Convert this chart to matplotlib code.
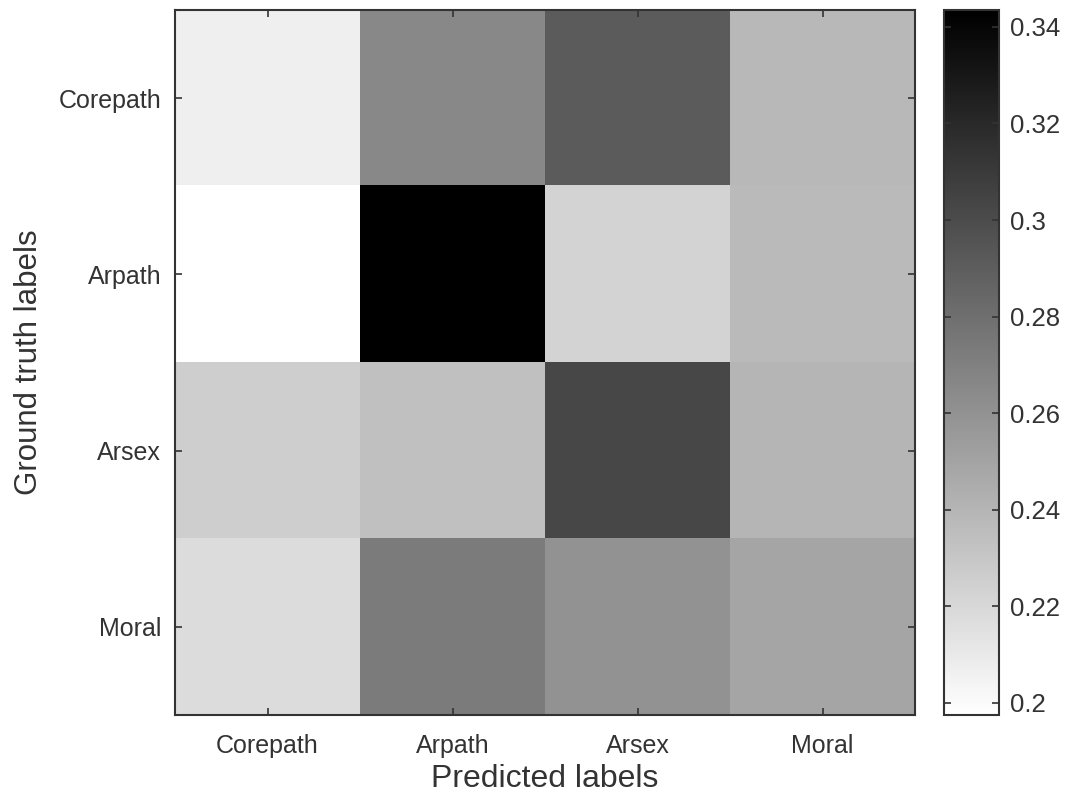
import numpy as np
import matplotlib
matplotlib.use("Agg")
import matplotlib.pyplot as plt
from matplotlib.ticker import FuncFormatter

labels = ["Corepath", "Arpath", "Arsex", "Moral"]
row_corepath = [0.2067, 0.2656, 0.2914, 0.2382]
row_arpath = [0.1975, 0.3435, 0.2227, 0.2370]
row_arsex = [0.2256, 0.2336, 0.3029, 0.2399]
row_moral = [0.2175, 0.2731, 0.2599, 0.2490]
cbar_ticks = [0.20, 0.22, 0.24, 0.26, 0.28, 0.30, 0.32, 0.34]

data = np.array([row_corepath, row_arpath, row_arsex, row_moral])

plt.rcParams['font.family'] = ['Liberation Sans', 'DejaVu Sans']
txt = '#333333'
edge = '#333333'

fig = plt.figure(figsize=(10.65, 8.01), dpi=100)
ax = fig.add_axes([175/1065, 1-715/801, 740/1065, 705/801])
cax = fig.add_axes([944/1065, 1-715/801, 55/1065, 705/801])

im = ax.imshow(data, cmap='gray_r', vmin=data.min(), vmax=data.max(),
               aspect='auto', interpolation='nearest')
ax.set_xticks(range(len(labels)))
ax.set_xticklabels(labels)
ax.set_yticks(range(len(labels)))
ax.set_yticklabels(labels)
ax.tick_params(direction='in', length=5, width=1.2, colors=edge,
               labelcolor=txt, labelsize=18, top=True, right=True, pad=10)
ax.tick_params(axis='x', pad=14)
for s in ax.spines.values():
    s.set_color(edge)
    s.set_linewidth(1.5)
ax.set_xlabel("Predicted labels", fontsize=23, color=txt, labelpad=4)
ax.set_ylabel("Ground truth labels", fontsize=22.5, color=txt, labelpad=10)

cb = fig.colorbar(im, cax=cax)
cb.set_ticks(cbar_ticks)
cb.ax.yaxis.set_major_formatter(FuncFormatter(lambda v, p: ('%g' % round(v, 2))))
cb.ax.tick_params(direction='in', length=5, width=1.2, colors=edge,
                  labelcolor=txt, labelsize=18.5, left=True, right=True, pad=8)
cb.outline.set_edgecolor(edge)
cb.outline.set_linewidth(1.5)

fig.savefig("out.png", dpi=100)
